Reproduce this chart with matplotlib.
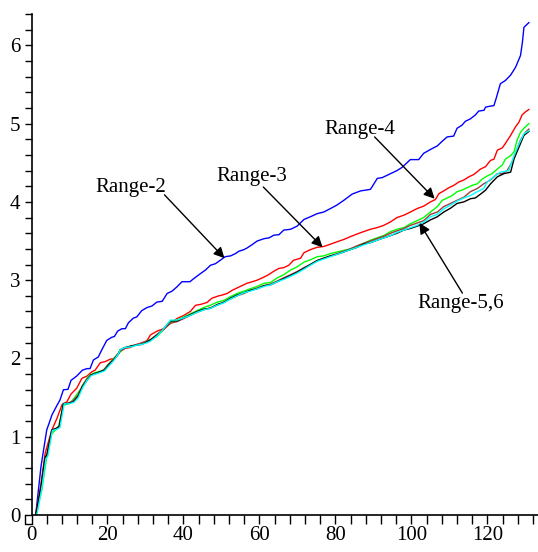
import matplotlib
matplotlib.use('Agg')
import matplotlib.pyplot as plt
from matplotlib.lines import Line2D
from matplotlib.transforms import IdentityTransform
from matplotlib.ticker import FixedLocator, FuncFormatter

plt.rcParams['font.family'] = ['Liberation Serif', 'DejaVu Serif']

# values as (x, y) pairs
range2 = [(1.1, 0.0), (2.5, 0.62), (4.0, 1.085), (5.4, 1.28), (6.7, 1.40), (7.5, 1.47),
          (8.4, 1.60), (9.6, 1.605), (10.4, 1.72), (11.9, 1.775), (13.4, 1.85), (14.6, 1.87),
          (15.4, 1.87), (16.3, 1.98), (17.6, 2.02), (18.5, 2.11), (19.8, 2.23), (21.1, 2.27),
          (21.8, 2.28), (22.7, 2.35), (23.8, 2.38), (24.7, 2.38), (25.5, 2.455), (26.8, 2.515),
          (27.7, 2.53), (29.0, 2.61), (30.4, 2.65), (31.7, 2.67), (33.0, 2.72), (34.4, 2.73),
          (35.7, 2.83), (37.0, 2.86), (38.3, 2.915), (39.6, 2.98), (41.7, 2.98), (42.7, 3.02),
          (44.5, 3.085), (45.8, 3.13), (47.1, 3.19), (48.4, 3.21), (49.7, 3.255), (51.0, 3.30),
          (52.4, 3.31), (53.7, 3.34), (54.6, 3.37), (55.9, 3.39), (56.7, 3.41), (58.1, 3.455),
          (59.4, 3.50), (61.2, 3.53), (62.5, 3.54), (63.8, 3.575), (65.1, 3.58), (66.4, 3.64),
          (68.2, 3.65), (69.9, 3.69), (71.7, 3.775), (73.4, 3.81), (75.2, 3.85), (76.9, 3.87),
          (78.7, 3.915), (80.4, 3.96), (82.2, 4.02), (84.4, 4.10), (86.6, 4.14), (89.2, 4.16),
          (89.6, 4.19), (91.0, 4.30), (92.3, 4.31), (93.6, 4.34), (94.9, 4.37), (96.2, 4.40),
          (97.5, 4.44), (98.4, 4.48), (99.7, 4.54), (101.9, 4.54), (103.2, 4.62), (105.0, 4.67),
          (106.8, 4.715), (108.1, 4.775), (109.4, 4.83), (111.1, 4.84), (112.0, 4.94), (113.3, 4.98),
          (114.2, 5.03), (115.5, 5.06), (116.8, 5.11), (117.7, 5.16), (119.1, 5.17), (119.5, 5.21),
          (120.4, 5.22), (121.7, 5.23), (122.4, 5.34), (123.4, 5.51), (124.7, 5.55), (126.1, 5.62),
          (127.4, 5.72), (128.7, 5.87), (129.2, 6.04), (129.6, 6.23), (130.9, 6.29)]

range3 = [(1.1, 0.0), (2.4, 0.36), (3.6, 0.79), (5.35, 1.085), (6.7, 1.235), (8.0, 1.405),
          (9.3, 1.445), (10.4, 1.545), (11.9, 1.62), (13.25, 1.745), (14.6, 1.775), (15.9, 1.83),
          (16.75, 1.85), (18.1, 1.945), (19.4, 1.96), (20.7, 1.99), (22.0, 2.00), (23.3, 2.085),
          (24.65, 2.13), (26.0, 2.14), (27.3, 2.17), (29.0, 2.20), (30.35, 2.225), (31.3, 2.30),
          (33.1, 2.35), (34.8, 2.38), (36.6, 2.45), (38.3, 2.51), (40.1, 2.55), (41.8, 2.60),
          (43.2, 2.68), (44.5, 2.69), (46.2, 2.715), (47.5, 2.77), (49.3, 2.80), (50.2, 2.81),
          (51.5, 2.83), (52.8, 2.87), (54.1, 2.90), (55.4, 2.93), (56.7, 2.96), (58.1, 2.98),
          (59.4, 3.00), (61.2, 3.04), (62.4, 3.07), (63.8, 3.115), (65.1, 3.15), (66.4, 3.16),
          (67.7, 3.19), (69.0, 3.255), (70.8, 3.28), (71.7, 3.35), (73.4, 3.39), (75.2, 3.42),
          (76.9, 3.43), (78.7, 3.46), (80.4, 3.49), (82.2, 3.52), (83.9, 3.555), (85.7, 3.59),
          (87.4, 3.62), (89.2, 3.65), (90.9, 3.67), (92.7, 3.70), (94.5, 3.745), (96.2, 3.80),
          (98.0, 3.83), (99.7, 3.87), (101.5, 3.915), (103.2, 3.945), (105.0, 4.00), (106.3, 4.03),
          (107.2, 4.105), (108.5, 4.14), (109.8, 4.18), (111.1, 4.21), (112.5, 4.255), (113.8, 4.28),
          (115.1, 4.32), (116.4, 4.35), (118.2, 4.42), (119.5, 4.45), (120.8, 4.53), (121.7, 4.545),
          (122.6, 4.66), (123.9, 4.69), (124.7, 4.745), (126.1, 4.85), (127.4, 4.96), (128.3, 5.02),
          (129.1, 5.11), (130.0, 5.15), (130.9, 5.18)]

range4 = [(1.1, 0.0), (2.7, 0.32), (4.0, 0.74), (5.35, 1.04), (7.1, 1.13), (8.4, 1.40),
          (10.2, 1.43), (11.5, 1.51), (12.8, 1.60), (13.7, 1.68), (15.0, 1.775), (16.3, 1.81),
          (17.6, 1.83), (18.9, 1.85), (20.3, 1.93), (21.6, 2.00), (22.9, 2.06), (24.2, 2.13),
          (25.5, 2.15), (27.3, 2.17), (29.0, 2.19), (30.35, 2.22), (31.7, 2.25), (33.0, 2.28),
          (34.8, 2.37), (36.6, 2.46), (38.3, 2.49), (40.1, 2.53), (41.8, 2.57), (43.6, 2.61),
          (45.3, 2.65), (47.1, 2.68), (48.9, 2.72), (50.6, 2.74), (52.4, 2.79), (54.1, 2.83),
          (55.9, 2.86), (57.6, 2.89), (59.4, 2.92), (61.2, 2.96), (62.9, 2.97), (64.7, 3.03),
          (66.4, 3.07), (68.2, 3.13), (69.9, 3.17), (71.7, 3.23), (73.4, 3.26), (75.2, 3.30),
          (76.9, 3.31), (78.7, 3.34), (80.4, 3.36), (82.2, 3.38), (83.9, 3.40), (85.7, 3.43),
          (87.4, 3.47), (89.2, 3.51), (90.9, 3.54), (92.7, 3.57), (94.5, 3.62), (96.2, 3.65),
          (98.0, 3.67), (99.7, 3.72), (101.5, 3.76), (103.2, 3.80), (105.0, 3.87), (106.8, 3.94),
          (108.1, 4.02), (109.4, 4.05), (110.7, 4.08), (112.0, 4.13), (113.3, 4.15), (114.6, 4.18),
          (115.9, 4.21), (117.3, 4.23), (118.6, 4.29), (119.9, 4.33), (121.2, 4.36), (122.6, 4.42),
          (123.9, 4.47), (124.7, 4.545), (126.1, 4.59), (127.0, 4.64), (127.8, 4.79), (128.7, 4.89),
          (129.6, 4.94), (130.9, 5.00)]

range5 = [(1.1, 0.0), (2.5, 0.38), (3.6, 0.75), (4.1, 0.77), (5.35, 1.09), (6.7, 1.11),
          (7.3, 1.14), (8.4, 1.42), (9.7, 1.43), (11.0, 1.46), (12.2, 1.53), (13.4, 1.65),
          (14.6, 1.74), (15.7, 1.79), (16.75, 1.80), (18.1, 1.83), (19.2, 1.86), (20.3, 1.93),
          (21.6, 1.99), (22.9, 2.07), (23.3, 2.10), (24.65, 2.13), (26.4, 2.16), (27.7, 2.18),
          (29.0, 2.19), (30.35, 2.22), (31.3, 2.24), (33.1, 2.31), (34.8, 2.37), (36.6, 2.45),
          (38.3, 2.47), (40.1, 2.51), (41.8, 2.55), (43.6, 2.59), (45.3, 2.62), (47.1, 2.65),
          (48.9, 2.68), (50.6, 2.72), (52.4, 2.76), (54.1, 2.80), (55.9, 2.83), (57.6, 2.87),
          (59.4, 2.90), (61.2, 2.93), (62.9, 2.95), (64.7, 2.99), (66.4, 3.03), (68.2, 3.07),
          (69.9, 3.11), (71.7, 3.16), (73.4, 3.20), (75.2, 3.25), (76.9, 3.28), (78.7, 3.31),
          (80.4, 3.34), (82.2, 3.37), (83.9, 3.40), (85.7, 3.44), (87.4, 3.47), (89.2, 3.50),
          (90.9, 3.53), (92.7, 3.56), (94.5, 3.60), (96.2, 3.63), (98.0, 3.66), (99.7, 3.70),
          (101.5, 3.73), (103.2, 3.76), (105.0, 3.84), (106.8, 3.87), (108.5, 3.94), (110.3, 3.98),
          (112.0, 4.02), (113.8, 4.06), (115.5, 4.13), (117.3, 4.17), (119.0, 4.23), (120.8, 4.28),
          (122.6, 4.36), (123.9, 4.36), (125.2, 4.40), (126.5, 4.51), (127.8, 4.68), (128.7, 4.79),
          (130.0, 4.89), (130.9, 4.93)]

range6a = [(1.4, 0.0), (2.7, 0.33), (3.8, 0.72), (4.3, 0.75), (5.5, 1.08), (6.9, 1.10),
           (7.5, 1.12), (8.6, 1.42), (9.9, 1.42), (11.2, 1.44), (12.3, 1.50), (13.5, 1.63),
           (14.6, 1.72), (15.7, 1.78), (16.75, 1.80), (18.1, 1.82), (19.2, 1.84), (20.3, 1.90),
           (21.6, 1.97), (22.9, 2.06), (23.3, 2.11), (24.65, 2.14), (26.4, 2.15), (27.7, 2.17),
           (29.0, 2.18), (30.35, 2.20), (31.3, 2.22), (33.1, 2.29), (34.8, 2.38), (36.6, 2.49),
           (38.3, 2.49), (40.1, 2.52), (41.8, 2.55), (43.6, 2.59), (45.3, 2.62), (47.1, 2.64),
           (48.9, 2.68), (50.6, 2.71), (52.4, 2.76), (54.1, 2.80), (55.9, 2.84), (57.6, 2.86),
           (59.4, 2.89), (61.2, 2.92), (62.9, 2.94), (64.7, 2.98), (66.4, 3.01), (68.2, 3.05),
           (69.9, 3.09), (71.7, 3.14), (73.4, 3.19), (75.2, 3.24), (76.9, 3.27), (78.7, 3.30),
           (80.4, 3.33), (82.2, 3.36), (83.9, 3.39), (85.7, 3.42), (87.4, 3.45), (89.2, 3.48),
           (90.9, 3.51), (92.7, 3.54), (94.5, 3.57), (96.2, 3.61), (98.0, 3.64), (99.7, 3.67),
           (101.5, 3.70), (103.2, 3.74), (105.0, 3.81), (106.8, 3.84), (108.5, 3.91), (110.3, 3.96),
           (112.0, 4.01), (113.8, 4.05), (115.5, 4.08), (117.3, 4.13), (119.0, 4.17), (119.9, 4.25),
           (121.6, 4.32), (123.4, 4.38), (125.6, 4.40), (127.0, 4.59), (128.3, 4.74), (129.6, 4.87),
           (130.9, 4.91)]

range6b = [(1.1, 0.0), (2.5, 0.36), (3.6, 0.74), (4.0, 0.76), (5.35, 1.085), (6.7, 1.11),
           (7.3, 1.13), (8.4, 1.425), (9.7, 1.425), (11.0, 1.445), (12.2, 1.51), (13.4, 1.64),
           (14.6, 1.72), (15.7, 1.79), (16.75, 1.81), (18.1, 1.83), (19.2, 1.85), (20.3, 1.915),
           (21.6, 1.98), (22.9, 2.06), (23.3, 2.11), (24.65, 2.14), (26.4, 2.16), (27.7, 2.17),
           (29.0, 2.18), (30.35, 2.21), (31.3, 2.235), (33.1, 2.30), (34.8, 2.38), (36.6, 2.48),
           (38.3, 2.48), (40.1, 2.52), (41.8, 2.56), (43.6, 2.60), (45.3, 2.63), (47.1, 2.64),
           (48.9, 2.69), (50.6, 2.715), (52.4, 2.77), (54.1, 2.81), (55.9, 2.84), (57.6, 2.87),
           (59.4, 2.89), (61.2, 2.93), (62.9, 2.94), (64.7, 2.98), (66.4, 3.02), (68.2, 3.06),
           (69.9, 3.10), (71.7, 3.15), (73.4, 3.20), (75.2, 3.25), (76.9, 3.28), (78.7, 3.31),
           (80.4, 3.33), (82.2, 3.36), (83.9, 3.39), (85.7, 3.42), (87.4, 3.46), (89.2, 3.48),
           (90.9, 3.51), (92.7, 3.54), (94.5, 3.57), (96.2, 3.60), (98.0, 3.64), (99.7, 3.66),
           (101.5, 3.69), (103.2, 3.72), (105.0, 3.77), (106.8, 3.81), (108.5, 3.87), (110.3, 3.92),
           (112.0, 3.98), (113.8, 4.00), (115.5, 4.04), (116.8, 4.05), (118.2, 4.10), (119.5, 4.15),
           (120.8, 4.23), (122.6, 4.32), (124.3, 4.36), (126.1, 4.38), (127.0, 4.55), (128.3, 4.70),
           (129.6, 4.85), (130.9, 4.90)]

series = [
    (range2, 'blue'),
    (range3, 'red'),
    (range4, '#00ff00'),
    (range5, '#a03c3c'),
    (range6b, 'black'),
    (range6a, '#00ffff'),
]

# label text (x, y) and arrow tail -> tip, in data units
labels = [
    ('Range-2', (26.0, 4.19), (35.0, 4.09), (50.8, 3.28)),
    ('Range-3', (57.9, 4.32), (61.0, 4.19), (76.6, 3.42)),
    ('Range-4', (86.3, 4.92), (90.3, 4.83), (106.1, 4.04)),
    ('Range-5,6', (113.0, 2.70), (113.4, 2.835), (102.1, 3.73)),
]

W, H = 538, 552
fig = plt.figure(figsize=(W / 100, H / 100), dpi=100)
ax = fig.add_axes([31.5 / W, 37 / H, 1 - 31.5 / W, 501 / H])

for pts, col in series:
    xs = [p[0] for p in pts]
    ys = [p[1] for p in pts]
    ax.plot(xs, ys, color=col, linewidth=1.0)

for txt, tpos, tail, tip in labels:
    ax.text(tpos[0], tpos[1], txt, fontsize=15, ha='center', va='center')
    ax.annotate('', xy=tip, xytext=tail,
                arrowprops=dict(arrowstyle='-|>', color='black', lw=1.0,
                                mutation_scale=16, shrinkA=0, shrinkB=0))

ax.set_xlim(0, 133.3)
ax.set_ylim(0, 6.4)

for side in ['top', 'right']:
    ax.spines[side].set_visible(False)
for side in ['left', 'bottom']:
    ax.spines[side].set_linewidth(1.2)

xt = list(range(0, 133, 4))
yt = [i * 0.2 for i in range(33)]
ax.xaxis.set_major_locator(FixedLocator(xt))
ax.yaxis.set_major_locator(FixedLocator(yt))
ax.xaxis.set_major_formatter(FuncFormatter(lambda v, p: f'{int(round(v))}' if round(v) % 20 == 0 else ''))
ax.yaxis.set_major_formatter(FuncFormatter(lambda v, p: f'{int(round(v))}' if abs(v - round(v)) < 1e-6 else ''))
ax.tick_params(axis='x', direction='out', length=6.5, width=1.0, labelsize=15, pad=1.5)
ax.tick_params(axis='y', direction='out', length=5, width=1.0, labelsize=15, pad=3)

# little box at the origin, as in the original
x0, y0 = ax.transData.transform((0, 0))
fig.add_artist(Line2D([x0 - 7, x0 - 7, x0], [y0, y0 - 9, y0 - 9],
                      color='black', linewidth=1.0, transform=IdentityTransform()))

fig.savefig('out.png', dpi=100)
